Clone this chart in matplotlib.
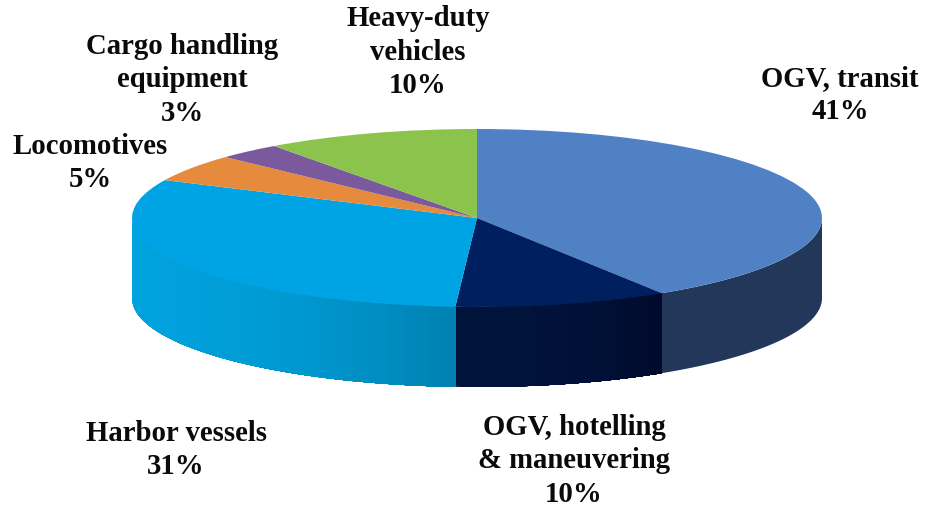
import numpy as np
import matplotlib
matplotlib.use('Agg')
import matplotlib.pyplot as plt
from matplotlib.colors import to_rgb

# Shares in drawing order, clockwise from 12 o'clock
labels = ['OGV, transit', 'OGV, hotelling\n& maneuvering', 'Harbor vessels',
          'Locomotives', 'Cargo handling\nequipment', 'Heavy-duty\nvehicles']
values = [41, 10, 31, 5, 3, 10]

top_colors = ['#4F81C4', '#001F5F', '#00A3E4', '#E68A3E', '#7A5A9C', '#8BC34C']
wall_left = ['#22375A', '#00133A', '#00A2DE', '#E68A3E', '#7A5A9C', '#8BC34C']
wall_right = ['#22375A', '#00082A', '#007FAE', '#E68A3E', '#7A5A9C', '#8BC34C']

# Label centres in pixels
label_pos = [(840, 95), (574, 461), (176, 450), (90, 163), (182, 80), (418, 52)]

W, H = 925, 508
CX, CY = 477, 218     # pie centre, px
RX, RY = 345, 89      # top ellipse radii, px
DEPTH = 80            # wall height, px

fig = plt.figure(figsize=(W / 100, H / 100), dpi=100)
ax = fig.add_axes([0, 0, 1, 1])

# side walls first: each strip runs to the wedge's end and the next one paints
# over it, so the gradient has no seams
depth = DEPTH / RY
edges = 90 - np.cumsum([0] + values) * 3.6
for i in range(len(values)):
    # only the front half of the pie shows its wall
    lo, hi = max(edges[i + 1], -180), min(edges[i], 0)
    if hi <= lo:
        continue
    n = 1 if wall_left[i] == wall_right[i] else 60
    c_l = np.array(to_rgb(wall_left[i]))
    c_r = np.array(to_rgb(wall_right[i]))
    for k in range(n):
        t = k / n
        col = c_l + (c_r - c_l) * t ** 3
        th = np.radians(np.linspace(lo + (hi - lo) * t, hi, 80))
        xs = np.cos(th)
        ys = np.sin(th)
        ax.fill(np.r_[xs, xs[::-1]], np.r_[ys, ys[::-1] - depth], color=col, lw=0)

ax.pie(values, colors=top_colors, startangle=90, counterclock=False, radius=1,
       wedgeprops={'linewidth': 0})
ax.set_aspect('auto')
ax.set_xlim(-CX / RX, (W - CX) / RX)
ax.set_ylim((CY - H) / RY, CY / RY)
ax.axis('off')

for lab, v, (x, y) in zip(labels, values, label_pos):
    fig.text(x / W, 1 - y / H, f'{lab}\n{v}%', ha='center', va='center',
             family='Liberation Serif', weight='bold', fontsize=20.7,
             linespacing=1.32, color='#0A0A0A')

fig.savefig('out.png', dpi=100)
